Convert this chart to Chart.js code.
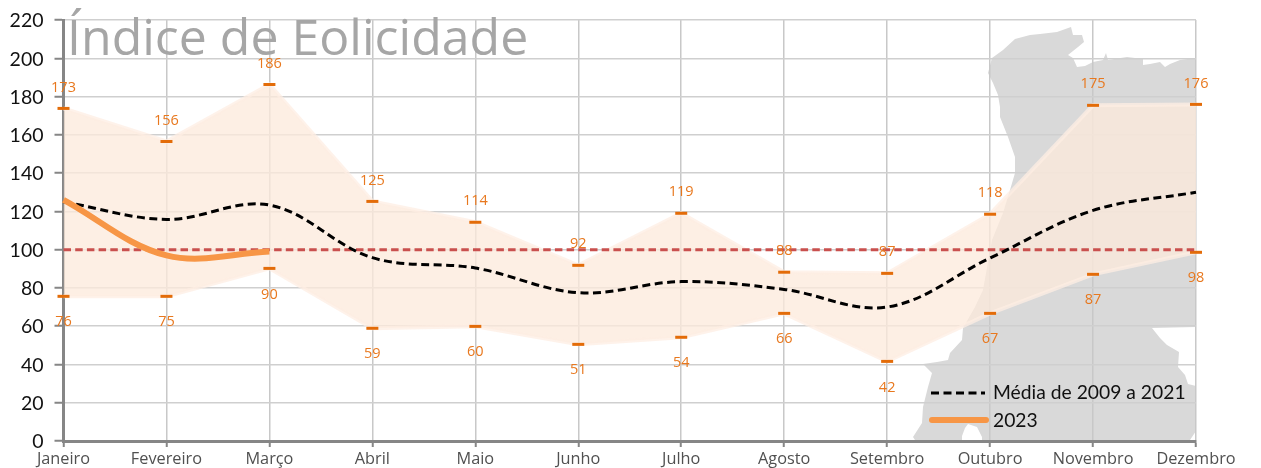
<!DOCTYPE html>
<html lang="pt">
<head>
<meta charset="utf-8">
<style>html,body{margin:0;padding:0;background:#fff}#w{width:1261px;height:468px}</style>
<script src="https://cdn.jsdelivr.net/npm/chart.js@4"></script>
</head>
<body>
<div id="w"><canvas id="c" width="1261" height="468"></canvas></div>
<script>
const months = ['Janeiro','Fevereiro','Março','Abril','Maio','Junho','Julho','Agosto','Setembro','Outubro','Novembro','Dezembro'];
const maxValues = [173.8,156.5,186.3,125.2,114.3,91.8,119,88.2,87.6,118.5,175.4,175.9];
const minValues = [75.6,75.6,90.2,58.9,59.9,50.5,54.2,66.7,41.6,66.7,87.1,98.6];
const maxLabels = ['173','156','186','125','114','92','119','88','87','118','175','176'];
const minLabels = ['76','75','90','59','60','51','54','66','42','67','87','98'];
const meanValues = [125,115.8,123.3,95.8,90.4,77.5,83.3,79.2,70,95.6,120.5,130];
const year2023 = [126,97,99,null,null,null,null,null,null,null,null,null];
const referenceLine = [100,100,100,100,100,100,100,100,100,100,100,100];
const yTicks = [0,20,40,60,80,100,120,140,160,180,200,220];

const titleText = 'Índice de Eolicidade';
const meanName = 'Média de 2009 a 2021';
const yearName = '2023';

const coastOutline = [[1196,47],[1195,58],[1180,60],[1170,64],[1165,67],[1160,62],[1150,64],[1143,65],[1143,59],[1127,57],[1108,60],[1106,53],[1103,60],[1093,62],[1085,66],[1077,67],[1073,58],[1068,55],[1078,47],[1084,42],[1082,35],[1073,35],[1071,27],[1057,32],[1040,34],[1030,35],[1015,39],[1003,50],[992,58],[988,73],[993,83],[998,95],[1000,107],[1000,117],[1008,137],[1015,157],[1015,173],[1010,190],[1003,213],[992,240],[983,290],[975,307],[963,328],[962,340],[950,353],[948,360],[937,362],[923,364],[932,373],[928,387],[923,407],[922,423],[913,437],[915,440],[962,440],[962,436],[965,428],[968,424],[977,427],[982,437],[982,440],[1190,440],[1196,431],[1196,386],[1188,384],[1185,375],[1178,367],[1179,352],[1167,345],[1160,338],[1152,328],[1196,327]];

const mapPlugin = {
  id:'map',
  beforeDraw(chart){
    const ctx = chart.ctx;
    ctx.save();
    ctx.fillStyle = '#d9d9d9';
    ctx.beginPath();
    coastOutline.forEach((p,i)=> i ? ctx.lineTo(p[0],p[1]) : ctx.moveTo(p[0],p[1]));
    ctx.closePath();
    ctx.fill();
    ctx.restore();
  }
};

const overlayPlugin = {
  id:'overlay',
  afterDatasetsDraw(chart){
    const ctx = chart.ctx, xs = chart.scales.x, ys = chart.scales.y;
    ctx.save();
    // title
    ctx.font = '50px "Open Sans"';
    ctx.fillStyle = '#a6a6a6';
    ctx.textAlign = 'left';
    ctx.textBaseline = 'alphabetic';
    ctx.fillText(titleText, 67, 55);
    // value labels
    ctx.font = '14.5px "Open Sans"';
    ctx.fillStyle = '#E8781E';
    ctx.textAlign = 'center';
    ctx.textBaseline = 'middle';
    months.forEach((m,i)=>{
      const x = xs.getPixelForValue(i);
      ctx.fillText(maxLabels[i], x, ys.getPixelForValue(maxValues[i]) - 21);
      ctx.fillText(minLabels[i], x, ys.getPixelForValue(minValues[i]) + 26);
    });
    // legend
    ctx.lineCap = 'butt';
    ctx.strokeStyle = '#000';
    ctx.lineWidth = 3;
    ctx.setLineDash([8,4.5]);
    ctx.beginPath(); ctx.moveTo(931,393); ctx.lineTo(985,393); ctx.stroke();
    ctx.setLineDash([]);
    ctx.strokeStyle = '#F79646';
    ctx.lineWidth = 6;
    ctx.lineCap = 'round';
    ctx.beginPath(); ctx.moveTo(932,420); ctx.lineTo(986,420); ctx.stroke();
    ctx.font = '19.3px Lato';
    ctx.fillStyle = '#111';
    ctx.textAlign = 'left';
    ctx.fillText(meanName, 993, 393);
    ctx.fillText(yearName, 993, 421);
    ctx.restore();
  }
};

const bandBorder = 'rgba(253,238,227,0.75)';
new Chart(document.getElementById('c'), {
  type:'line',
  data:{
    labels:months,
    datasets:[
      {label:'Máximo',data:maxValues,fill:'+1',backgroundColor:'rgba(252,234,220,0.76)',borderColor:bandBorder,borderWidth:4,
       pointStyle:'line',pointRadius:6,pointHoverRadius:6,pointBorderColor:'#E36C09',pointBackgroundColor:'#E36C09',pointBorderWidth:3,tension:0,clip:false,order:5},
      {label:'Mínimo',data:minValues,fill:false,borderColor:bandBorder,borderWidth:4,
       pointStyle:'line',pointRadius:6,pointHoverRadius:6,pointBorderColor:'#E36C09',pointBackgroundColor:'#E36C09',pointBorderWidth:3,tension:0,clip:false,order:4},
      {label:'Referência',data:referenceLine,borderColor:'#C9504E',borderWidth:3,borderDash:[7.5,4.2],pointRadius:0,tension:0,order:3},
      {label:meanName,data:meanValues,borderColor:'#000',borderWidth:3,borderDash:[8,4.5],pointRadius:0,tension:0.36,order:2},
      {label:yearName,data:year2023,borderColor:'#F79646',borderWidth:6,pointRadius:0,tension:0.36,spanGaps:false,order:1}
    ]
  },
  options:{
    responsive:false,
    animation:false,
    layout:{padding:{top:20,right:65,left:0,bottom:0}},
    plugins:{legend:{display:false},title:{display:false},tooltip:{enabled:false}},
    scales:{
      x:{
        offset:false,
        afterFit:s=>{s.height=27},
        grid:{color:'#c8c8c8',lineWidth:1.5,tickColor:'#868686',tickLength:6,tickWidth:2},
        border:{color:'#868686',width:3},
        ticks:{color:'#505050',font:{family:'"Open Sans"',size:16.3},padding:3,maxRotation:0,autoSkip:false}
      },
      y:{
        min:0,max:220,
        afterBuildTicks:s=>{s.ticks=yTicks.map(v=>({value:v}))},
        afterFit:s=>{s.width=63.5;s.paddingTop=0;s.paddingBottom=0},
        grid:{color:'#cfcfcf',lineWidth:1.5,tickColor:'#868686',tickLength:9,tickWidth:2},
        border:{color:'#868686',width:3},
        ticks:{color:'#111',font:{family:'Lato',size:19.5},padding:11,labelOffset:1}
      }
    }
  },
  plugins:[mapPlugin,overlayPlugin]
});
</script>
</body>
</html>
